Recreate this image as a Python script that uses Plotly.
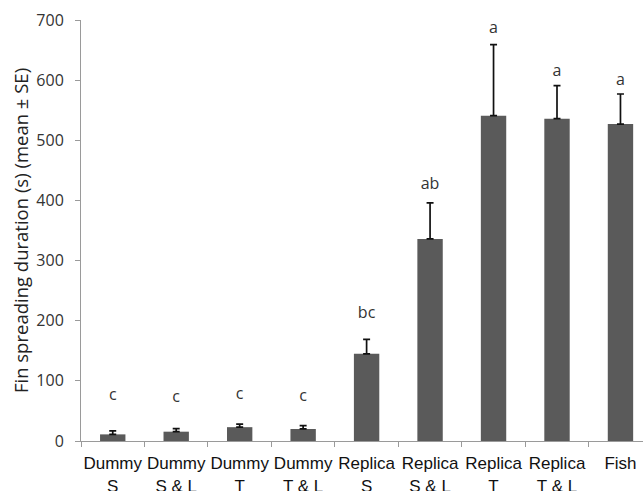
import plotly.graph_objects as go

categories = ["Dummy<br>S", "Dummy<br>S & L", "Dummy<br>T", "Dummy<br>T & L",
              "Replica<br>S", "Replica<br>S & L", "Replica<br>T", "Replica<br>T & L", "Fish"]
means = [11, 15.5, 23, 20, 145, 336, 541, 536, 527]
se = [6, 5, 5, 5.5, 24, 60, 118, 55, 50]
letters = ["c", "c", "c", "c", "bc", "ab", "a", "a", "a"]
letter_y = [75, 71, 77, 72.5, 211, 426, 685, 614, 599]
y_ticks = [0, 100, 200, 300, 400, 500, 600, 700]

fig = go.Figure()
fig.add_trace(go.Bar(
    x=categories, y=means,
    marker=dict(color="#5a5a5a", line=dict(width=0)),
    width=0.4,
    error_y=dict(type="data", array=se, arrayminus=[0] * len(se), symmetric=False,
                 color="#111111", thickness=1.7, width=3.5),
    showlegend=False,
))
fig.add_trace(go.Scatter(
    x=categories, y=letter_y, mode="text", text=letters,
    textfont=dict(family="Open Sans", size=16, color="#333333"),
    showlegend=False, hoverinfo="skip", cliponaxis=False,
))

fig.update_layout(
    width=643, height=491,
    margin=dict(l=81, r=0, t=20, b=50),
    plot_bgcolor="white", paper_bgcolor="white",
    bargap=0.6,
    xaxis=dict(
        type="category", range=[-0.5, 8.355], automargin=False, tickangle=0,
        showline=True, linecolor="#9a9a9a", linewidth=1,
        ticks="outside", tickson="boundaries", ticklen=5, tickcolor="#9a9a9a",
        tickfont=dict(family="Liberation Sans", size=17, color="#111111"),
        ticklabelstandoff=7,
        showgrid=False, zeroline=False,
    ),
    yaxis=dict(
        range=[0, 700], tickvals=y_ticks, automargin=False,
        showline=True, linecolor="#9a9a9a", linewidth=1,
        ticks="outside", ticklen=5, tickcolor="#9a9a9a",
        tickfont=dict(family="Open Sans", size=16, color="#333333"),
        ticklabelstandoff=8,
        showgrid=False, zeroline=False,
        title=dict(text="Fin spreading duration (s) (mean ± SE)",
                   font=dict(family="Open Sans", size=18.5, color="#222222"),
                   standoff=2),
    ),
)

fig.write_html("out.html", config={"displayModeBar": False},
               post_script="document.body.style.margin='0';")
